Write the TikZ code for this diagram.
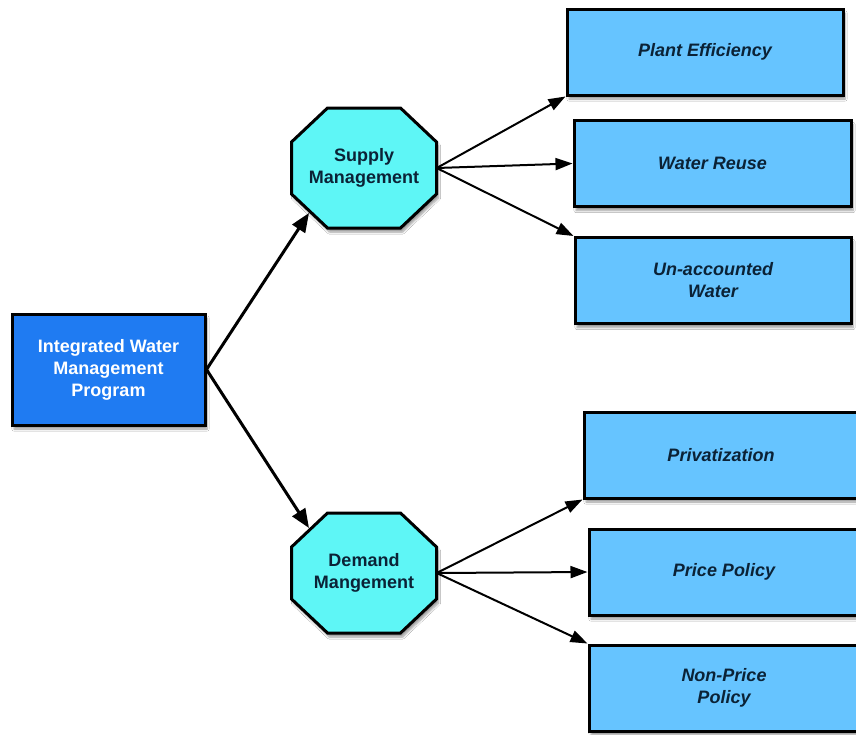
\documentclass[tikz,border=0pt]{standalone}
\usepackage{fontspec}
\setmainfont{Liberation Sans}
\usetikzlibrary{shadows.blur,arrows.meta,calc}
\definecolor{mainblue}{HTML}{1F7BF2}
\definecolor{octcyan}{HTML}{5EF6F6}
\definecolor{boxblue}{HTML}{66C4FF}
\definecolor{navy}{HTML}{0B2236}
\tikzset{
  shade/.style={blur shadow={shadow xshift=2pt,shadow yshift=-4pt,shadow blur steps=6,shadow opacity=40}},
  txt/.style={font=\bfseries\fontsize{18}{22}\selectfont,align=center,inner sep=0pt},
  mainbox/.style={txt,draw=black,line width=3pt,fill=mainblue,text=white,
    minimum width=193pt,minimum height=111pt,shade},
  octpath/.style={draw=black,line width=3pt,fill=octcyan,line join=miter,shade},
  octa/.style={txt,text=navy,minimum width=145pt,minimum height=120pt},
  leaf/.style={txt,draw=black,line width=3pt,fill=boxblue,text=navy,font=\bfseries\itshape\fontsize{18}{22}\selectfont,
    minimum height=86pt,shade},
  bigarrow/.style={line width=3pt,-{Triangle[length=19pt,width=15pt,fill=black]}},
  smallarrow/.style={line width=2pt,-{Triangle[length=17pt,width=12pt,fill=black]}}
}
\newcommand{\octshape}[1]{%
  \path[octpath] (#1) ++(-72.5,-26) -- ++(0,52) -- ++(36,34) -- ++(73,0) -- ++(36,-34)
    -- ++(0,-52) -- ++(-36,-34) -- ++(-73,0) -- cycle;}
\begin{document}
\begin{tikzpicture}[x=1pt,y=-1pt]
\useasboundingbox[fill=white] (0,0) rectangle (856,734);
\node[mainbox] (main) at (108.5,369.5) {Integrated Water\\Management\\Program};
\octshape{364,168}
\node[octa] (sup) at (364,168) {Supply\\Management};
\octshape{364,573}
\node[octa] (dem) at (364,573) {Demand\\Mangement};
\node[leaf,minimum width=276pt] (pe) at (705,52) {Plant Efficiency};
\node[leaf,minimum width=277pt] (wr) at (712.5,163.5) {Water Reuse};
\node[leaf,minimum width=276pt] (ua) at (713,280.5) {Un-accounted\\Water};
\node[leaf,minimum width=274pt] (pv) at (721,455) {Privatization};
\node[leaf,minimum width=270pt] (pp) at (724,572) {Price Policy};
\node[leaf,minimum width=270pt] (np) at (724,688) {Non-Price\\Policy};
\coordinate (supin) at ($(sup.center)+(-55,45)$);
\coordinate (demin) at ($(dem.center)+(-55,-45)$);
\draw[bigarrow] (main.east) -- (supin);
\draw[bigarrow] (main.east) -- (demin);
\draw[smallarrow] (sup.east) -- (pe.south west);
\draw[smallarrow] (sup.east) -- (wr.west);
\draw[smallarrow] (sup.east) -- (ua.north west);
\draw[smallarrow] (dem.east) -- (pv.south west);
\draw[smallarrow] (dem.east) -- (pp.west);
\draw[smallarrow] (dem.east) -- (np.north west);
\end{tikzpicture}
\end{document}
